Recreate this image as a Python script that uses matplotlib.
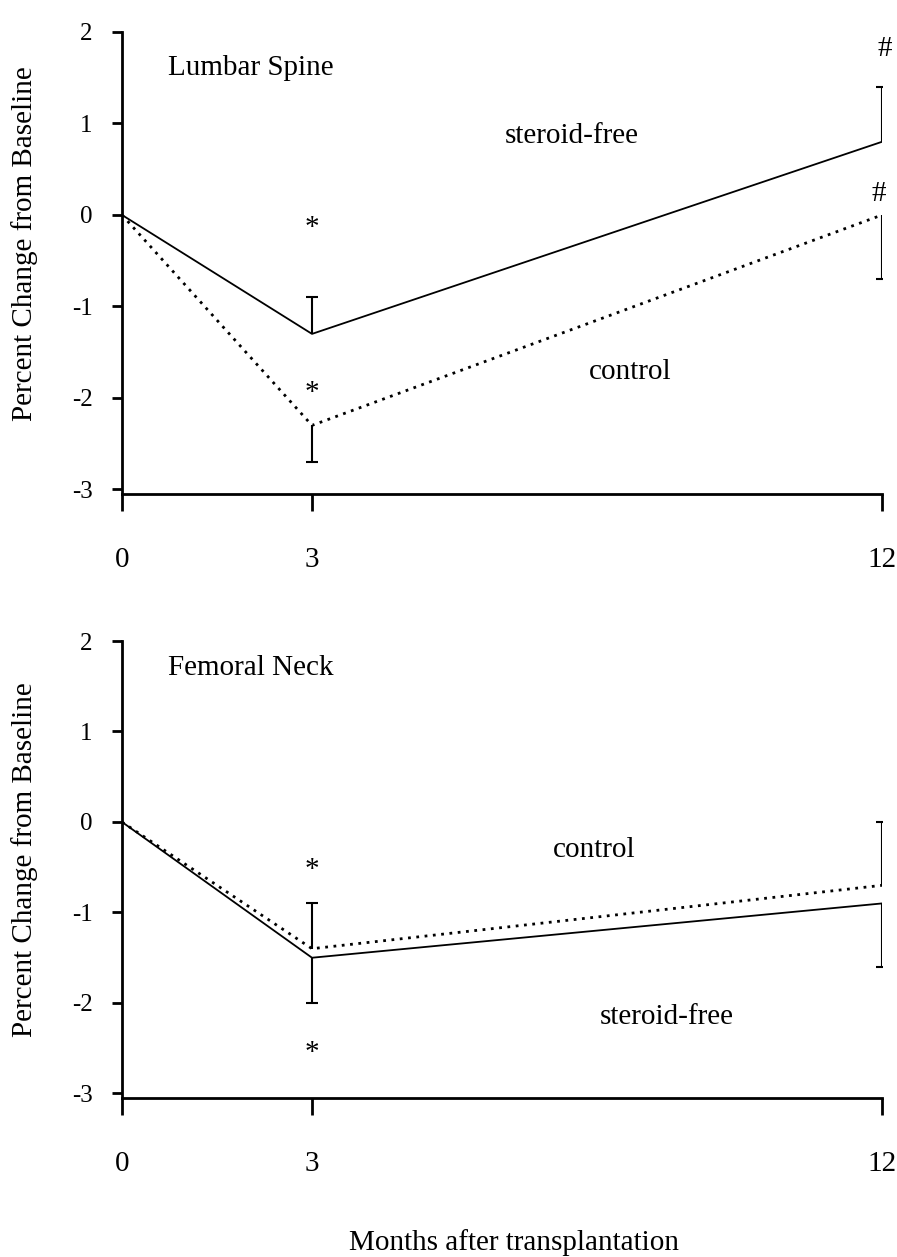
import matplotlib
matplotlib.use("Agg")
import matplotlib.pyplot as plt

plt.rcParams["font.family"] = ["Liberation Serif", "DejaVu Serif"]
plt.rcParams["axes.unicode_minus"] = False

# months after transplantation
months = [0, 3, 12]

# lumbar spine, % change from baseline
ls_free = [0.0, -1.3, 0.8]
ls_free_err = [0.0, 0.4, 0.6]      # drawn upward
ls_ctrl = [0.0, -2.3, 0.0]
ls_ctrl_err = [0.0, 0.4, 0.7]      # drawn downward

# femoral neck, % change from baseline
fn_free = [0.0, -1.5, -0.9]
fn_free_err = [0.0, 0.5, 0.7]      # drawn downward
fn_ctrl = [0.0, -1.4, -0.7]
fn_ctrl_err = [0.0, 0.5, 0.7]      # drawn upward

yticks = [2, 1, 0, -1, -2, -3]
FS = 21
W, H = 897, 1257

fig = plt.figure(figsize=(W / 100, H / 100), dpi=100)


def axes_px(left, right, top, bottom):
    return fig.add_axes([left / W, 1 - bottom / H, (right - left) / W, (bottom - top) / H])


def one_sided(ax, x, y, err, sign):
    for xi, yi, ei in zip(x, y, err):
        if ei == 0:
            continue
        tip = yi + sign * ei
        ax.vlines(xi, yi, tip, color="black", lw=1.5, zorder=3)
        ax.plot([xi], [tip], marker="_", ms=9, mew=1.5, color="black", zorder=3)


def style(ax):
    ax.set_xlim(0, 12)
    ax.set_ylim(-3.05, 2.0)
    for s in ("top", "right"):
        ax.spines[s].set_visible(False)
    ax.spines["left"].set_linewidth(2.0)
    ax.spines["bottom"].set_linewidth(2.0)
    ax.set_xticks(months)
    ax.set_xticklabels([str(m) for m in months])
    ax.set_yticks(yticks)
    ax.set_yticklabels([str(t) for t in yticks])
    ax.tick_params(axis="x", direction="out", length=12, width=2.0, pad=26, labelsize=FS)
    ax.tick_params(axis="y", direction="out", length=7, width=2.0, pad=14, labelsize=18)


def txt(ax, x, y, s, ha="center", size=FS):
    ax.text(x, y, s, fontsize=size, ha=ha, va="baseline")


# ---- lumbar spine ----
ax1 = axes_px(122, 882, 32, 494)
style(ax1)
ax1.plot(months, ls_free, color="black", lw=1.3, zorder=2)
ax1.plot(months, ls_ctrl, color="black", lw=2.0, ls=(0, (1, 2.0)), zorder=2)
one_sided(ax1, months, ls_free, ls_free_err, +1)
one_sided(ax1, months, ls_ctrl, ls_ctrl_err, -1)
txt(ax1, 0.73, 1.53, "Lumbar Spine", ha="left")
txt(ax1, 7.1, 0.79, "steroid-free")
txt(ax1, 8.03, -1.79, "control")
txt(ax1, 3, -0.22, "*")
txt(ax1, 3, -2.02, "*")
txt(ax1, 12.05, 1.74, "#")
txt(ax1, 11.95, 0.15, "#")

# ---- femoral neck ----
ax2 = axes_px(122, 882, 641, 1098)
style(ax2)
ax2.plot(months, fn_free, color="black", lw=1.3, zorder=2)
ax2.plot(months, fn_ctrl, color="black", lw=2.0, ls=(0, (1, 2.0)), zorder=2)
one_sided(ax2, months, fn_free, fn_free_err, -1)
one_sided(ax2, months, fn_ctrl, fn_ctrl_err, +1)
txt(ax2, 0.73, 1.62, "Femoral Neck", ha="left")
txt(ax2, 7.45, -0.39, "control")
txt(ax2, 8.6, -2.23, "steroid-free")
txt(ax2, 3, -0.61, "*")
txt(ax2, 3, -2.63, "*")

# shared axis titles
for yc in (244, 860):
    fig.text(25 / W, 1 - yc / H, "Percent Change from Baseline", fontsize=FS,
             rotation=90, ha="center", va="center")
fig.text(514 / W, 1 - 1250 / H, "Months after transplantation", fontsize=FS,
         ha="center", va="baseline")

fig.savefig("out.png", dpi=100, facecolor="white")
